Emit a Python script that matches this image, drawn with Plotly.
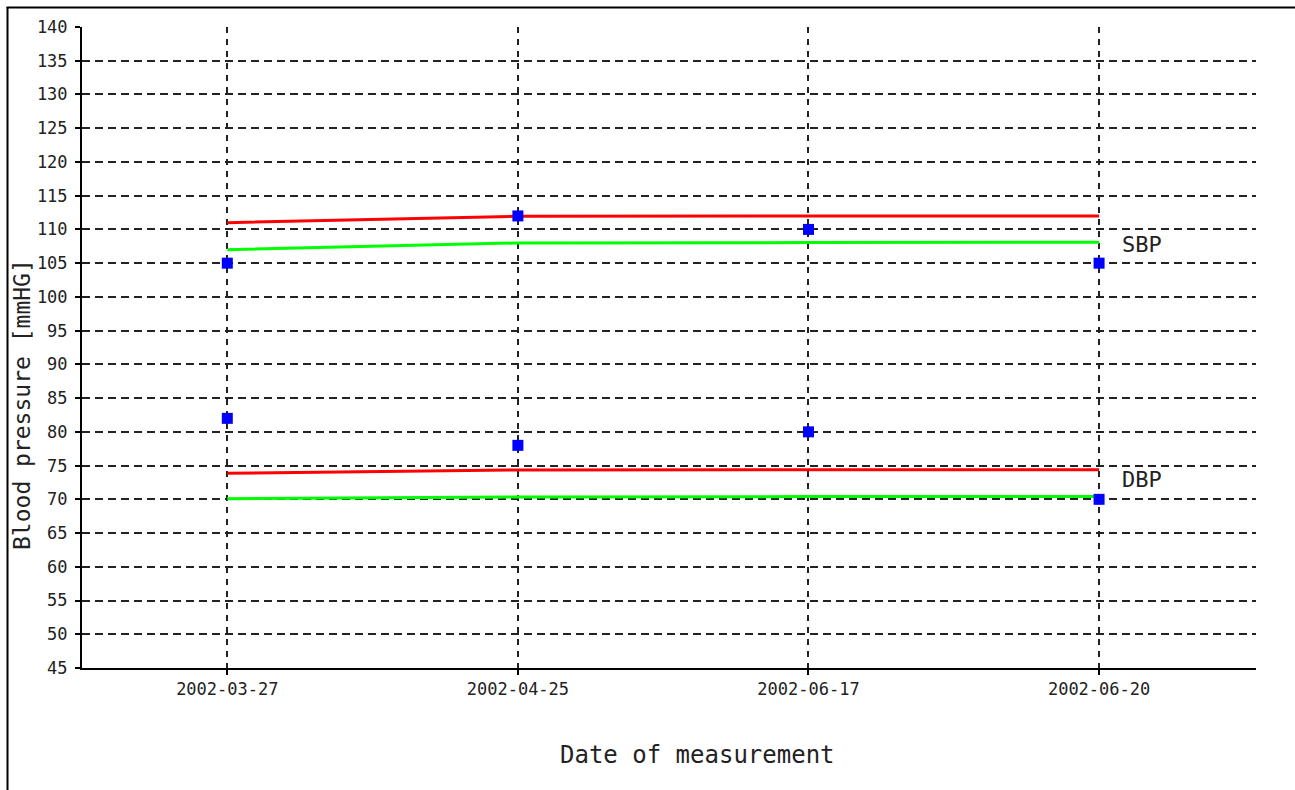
import plotly.graph_objects as go

# ---- data ----
dates = ["2002-03-27", "2002-04-25", "2002-06-17", "2002-06-20"]
sbp = [105, 112, 110, 105]
dbp = [82, 78, 80, 70]
sbp_upper = [111.0, 111.95, 112.0, 112.0]
sbp_lower = [107.0, 108.0, 108.05, 108.1]
dbp_upper = [73.85, 74.35, 74.4, 74.4]
dbp_lower = [70.1, 70.35, 70.4, 70.4]
label_names = ["SBP", "DBP"]
label_values = [107.7, 72.9]

# ---- layout geometry (pixels) ----
W, H = 1295, 790
L, R, T, B = 82, 1256, 27, 668


def xp(px):
    return (px - L) / (R - L)


def yp(py):
    return (B - py) / (B - T)


MONO = "DejaVu Sans Mono"

fig = go.Figure()
for vals, col in [(sbp_upper, "#ff0000"), (sbp_lower, "#00ff00"),
                  (dbp_upper, "#ff0000"), (dbp_lower, "#00ff00")]:
    fig.add_trace(go.Scatter(x=dates, y=vals, mode="lines",
                             line=dict(color=col, width=3), showlegend=False,
                             hoverinfo="skip"))
for vals in [sbp, dbp]:
    fig.add_trace(go.Scatter(x=dates, y=vals, mode="markers",
                             marker=dict(symbol="square", size=11, color="#0000ff",
                                         line=dict(width=0)),
                             showlegend=False))

annotations = []
for name, v in zip(label_names, label_values):
    annotations.append(dict(x=dates[-1], y=v, xref="x", yref="y", text=name,
                            showarrow=False, xanchor="left", xshift=21,
                            font=dict(family=MONO, size=22, color="#222")))
annotations.append(dict(x=xp(22), y=yp(405), xref="paper", yref="paper",
                        text="Blood pressure [mmHG]", textangle=-90, showarrow=False,
                        xanchor="center", yanchor="middle",
                        font=dict(family=MONO, size=23, color="#222")))
annotations.append(dict(x=xp(697.5), y=yp(754.5), xref="paper", yref="paper",
                        text="Date of measurement", showarrow=False,
                        xanchor="center", yanchor="middle",
                        font=dict(family=MONO, size=24, color="#222")))

shapes = [
    dict(type="line", xref="paper", yref="paper", x0=xp(7.5), x1=xp(7.5),
         y0=yp(7), y1=yp(800), line=dict(color="black", width=2)),
    dict(type="line", xref="paper", yref="paper", x0=xp(6.5), x1=xp(1300),
         y0=yp(7.5), y1=yp(7.5), line=dict(color="black", width=2)),
]

fig.update_layout(
    width=W, height=H,
    margin=dict(l=L, r=W - R, t=T, b=H - B, pad=0),
    paper_bgcolor="white", plot_bgcolor="white",
    annotations=annotations, shapes=shapes,
    showlegend=False,
)
fig.update_xaxes(type="category", range=[-0.5, 3.54],
                 showline=True, linecolor="black", linewidth=2,
                 showgrid=True, gridcolor="#222", gridwidth=1.5, griddash="6px,6px",
                 ticks="outside", ticklen=5, tickcolor="black", tickwidth=2,
                 tickfont=dict(family=MONO, size=17, color="#222"),
                 zeroline=False)
fig.update_yaxes(range=[45, 140], dtick=5, tick0=45,
                 showline=True, linecolor="black", linewidth=2,
                 showgrid=True, gridcolor="#222", gridwidth=1.5, griddash="8px,5px",
                 ticks="outside", ticklen=5, tickcolor="black", tickwidth=2,
                 ticklabelstandoff=4,
                 tickfont=dict(family=MONO, size=17, color="#222"),
                 zeroline=False)

fig.write_html("out.html", config={"displayModeBar": False},
               post_script="document.body.style.margin='0';document.body.style.overflow='hidden';")
